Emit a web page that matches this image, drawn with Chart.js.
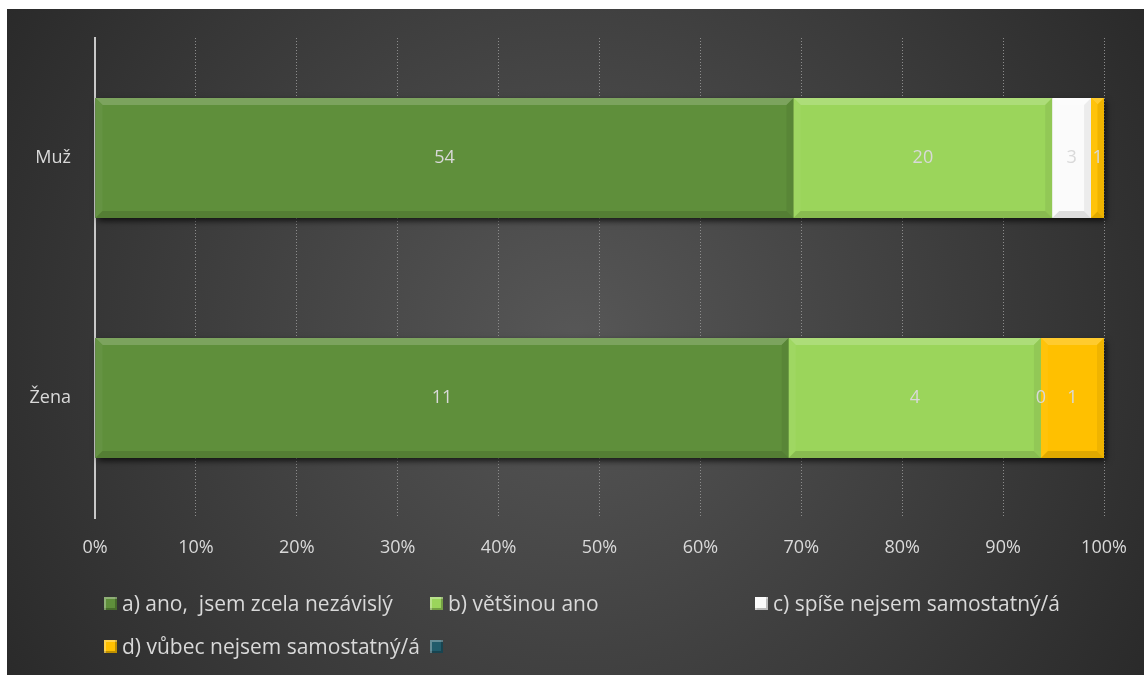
<!DOCTYPE html>
<html>
<head>
<meta charset="utf-8">
<script src="https://cdn.jsdelivr.net/npm/chart.js@4.4.1/dist/chart.umd.min.js"></script>
<style>
  html, body { margin: 0; padding: 0; background: #fff; }
  #wrap { position: absolute; left: 7px; top: 9px; width: 1137px; height: 666px; }
  #chart { display: block; }
  #legend {
    position: absolute; left: 97px; top: 581px; width: 1000px;
    display: grid; grid-template-columns: 326px 325px 326px; row-gap: 17px;
    font-family: "Open Sans", Lato, sans-serif; font-size: 21px; color: #d9d9d9;
  }
  .item { display: flex; align-items: center; height: 26px; white-space: pre; }
  .box {
    flex: none; width: 13px; height: 13px; margin-right: 5px;
    box-shadow: inset 2px 2px 0 rgba(255,255,255,0.3), inset -2px -2px 0 rgba(0,0,0,0.25);
  }
</style>
</head>
<body>
<div id="wrap">
  <canvas id="chart" width="1137" height="666"></canvas>
  <div id="legend"></div>
</div>
<script>
  const categories = ['Muž', 'Žena'];
  const seriesNames = ['a) ano,  jsem zcela nezávislý', 'b) většinou ano', 'c) spíše nejsem samostatný/á', 'd) vůbec nejsem samostatný/á', ''];
  const seriesColors = ['#5f8f3b', '#9bd55b', '#fbfbfb', '#ffc000', '#215b6b'];
  // answer counts per category, one array per answer
  const answerA = [54, 11];
  const answerB = [20, 4];
  const answerC = [3, 0];
  const answerD = [1, 1];
  const answerE = [null, null];
  const tickLabels = ['0%', '10%', '20%', '30%', '40%', '50%', '60%', '70%', '80%', '90%', '100%'];

  const counts = [answerA, answerB, answerC, answerD, answerE];
  const totals = categories.map((_, i) => counts.reduce((a, s) => a + (s[i] || 0), 0));
  const toPct = arr => arr.map((v, i) => v == null ? null : 100 * v / totals[i]);

  const FONT = '"Open Sans", Lato, sans-serif';
  const TEXT = '#d9d9d9';

  function shade(hex, amt) {
    const n = parseInt(hex.slice(1), 16);
    let r = n >> 16, g = (n >> 8) & 255, b = n & 255;
    const f = c => Math.max(0, Math.min(255, Math.round(amt > 0 ? c + (255 - c) * amt : c * (1 + amt))));
    return `rgb(${f(r)},${f(g)},${f(b)})`;
  }

  const backdrop = {
    id: 'backdrop',
    beforeDraw(chart) {
      const { ctx, width, height } = chart;
      const g = ctx.createRadialGradient(width * 0.5, height * 0.5, 0, width * 0.5, height * 0.5, width * 0.62);
      g.addColorStop(0, '#575757');
      g.addColorStop(1, '#272727');
      ctx.save();
      ctx.fillStyle = g;
      ctx.fillRect(0, 0, width, height);
      ctx.restore();
    }
  };

  // soft shadow under each bar
  const barShadow = {
    id: 'barShadow',
    beforeDatasetsDraw(chart) {
      const ctx = chart.ctx;
      const metas = chart.data.datasets.map((_, i) => chart.getDatasetMeta(i));
      categories.forEach((_, j) => {
        const bars = metas.map(m => m.data[j]).filter((b, k) => b && counts[k][j]);
        if (!bars.length) return;
        const left = Math.min(...bars.map(b => Math.min(b.x, b.base)));
        const right = Math.max(...bars.map(b => Math.max(b.x, b.base)));
        const top = bars[0].y - bars[0].height / 2;
        ctx.save();
        ctx.shadowColor = 'rgba(0,0,0,0.7)';
        ctx.shadowBlur = 6;
        ctx.shadowOffsetX = 2;
        ctx.shadowOffsetY = 3;
        ctx.fillStyle = '#222';
        ctx.fillRect(left, top, right - left, bars[0].height);
        ctx.restore();
      });
    }
  };

  function segments(chart, fn) {
    chart.data.datasets.forEach((ds, i) => {
      chart.getDatasetMeta(i).data.forEach((bar, j) => {
        const v = counts[i][j];
        if (v == null) return;
        const x0 = Math.min(bar.x, bar.base), x1 = Math.max(bar.x, bar.base);
        fn(i, v, x0, x1, bar.y - bar.height / 2, bar.y + bar.height / 2, bar.y);
      });
    });
  }

  // bevelled edges, then value labels on top of everything
  const bevel = {
    id: 'bevel',
    afterDatasetsDraw(chart) {
      const ctx = chart.ctx;
      segments(chart, (i, v, x0, x1, y0, y1) => {
        const w = x1 - x0;
        if (w <= 1) return;
        const c = seriesColors[i];
        const e = Math.min(7, w / 2);
        const face = (pts, col) => {
          ctx.fillStyle = col;
          ctx.beginPath();
          pts.forEach(([x, y], k) => k ? ctx.lineTo(x, y) : ctx.moveTo(x, y));
          ctx.closePath();
          ctx.fill();
        };
        ctx.save();
        face([[x0, y0], [x1, y0], [x1 - e, y0 + e], [x0 + e, y0 + e]], shade(c, 0.18));
        face([[x0, y0], [x0 + e, y0 + e], [x0 + e, y1 - e], [x0, y1]], shade(c, 0.04));
        face([[x1, y0], [x1, y1], [x1 - e, y1 - e], [x1 - e, y0 + e]], shade(c, -0.06));
        face([[x0, y1], [x1, y1], [x1 - e, y1 - e], [x0 + e, y1 - e]], shade(c, -0.12));
        ctx.restore();
      });
      ctx.save();
      ctx.font = '18px ' + FONT;
      ctx.fillStyle = TEXT;
      ctx.textAlign = 'center';
      ctx.textBaseline = 'middle';
      segments(chart, (i, v, x0, x1, y0, y1, yc) => ctx.fillText(String(v), (x0 + x1) / 2, yc));
      ctx.restore();
    }
  };

  const chart = new Chart(document.getElementById('chart'), {
    type: 'bar',
    data: {
      labels: categories,
      datasets: counts.map((arr, i) => ({
        label: seriesNames[i],
        data: toPct(arr),
        backgroundColor: seriesColors[i],
        borderWidth: 0,
        categoryPercentage: 1,
        barPercentage: 0.5,
      })),
    },
    options: {
      indexAxis: 'y',
      responsive: false,
      animation: false,
      layout: { autoPadding: false, padding: { top: 29, right: 40, bottom: 100, left: 0 } },
      plugins: { legend: { display: false }, tooltip: { enabled: false } },
      scales: {
        x: {
          stacked: true, min: 0, max: 100,
          afterFit: s => { s.height = 57; s.paddingLeft = 0; s.paddingRight = 0; },
          afterBuildTicks: s => { s.ticks = tickLabels.map((_, i) => ({ value: i * 10 })); },
          ticks: {
            callback: (v, i) => tickLabels[i],
            color: TEXT, font: { family: FONT, size: 18 }, padding: 19,
          },
          grid: { color: '#8c8c8c', drawTicks: false, lineWidth: 1 },
          border: { display: false, dash: [1, 2] },
        },
        y: {
          stacked: true,
          afterFit: s => { s.width = 88; s.paddingTop = 0; s.paddingBottom = 0; },
          ticks: { color: TEXT, font: { family: FONT, size: 18 }, padding: 24 },
          grid: { display: false, drawTicks: false },
          border: { display: true, color: '#c8c8c8', width: 2, dash: [2, 1] },
        },
      },
    },
    plugins: [backdrop, barShadow, bevel],
  });

  const legend = document.getElementById('legend');
  chart.data.datasets.forEach(ds => {
    const item = document.createElement('div');
    item.className = 'item';
    const box = document.createElement('span');
    box.className = 'box';
    box.style.background = ds.backgroundColor;
    item.appendChild(box);
    item.appendChild(document.createTextNode(ds.label));
    legend.appendChild(item);
  });
</script>
</body>
</html>
